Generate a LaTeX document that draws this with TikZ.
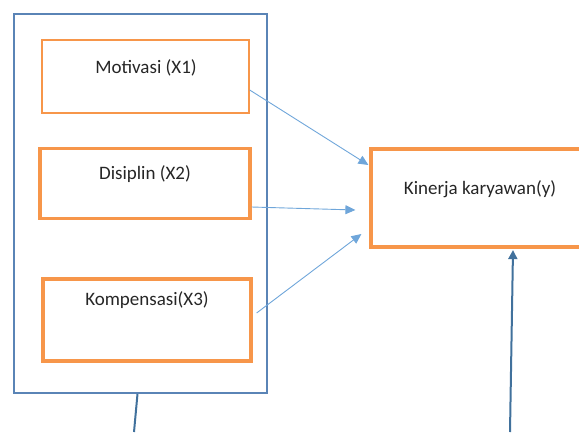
\documentclass[tikz,border=0pt]{standalone}
\usepackage{fontspec}
\setmainfont{Carlito}
\usetikzlibrary{arrows.meta,positioning}
\definecolor{oranye}{HTML}{F7964A}
\definecolor{biru}{HTML}{5A84B6}
\definecolor{birumuda}{HTML}{6FA6DA}
\definecolor{birutua}{HTML}{41719C}
\definecolor{teksabu}{HTML}{262626}
\begin{document}
\begin{tikzpicture}[x=1pt,y=-1pt,
	kotak/.style={draw=oranye,line width=3.2pt,inner sep=0pt},
	teks/.style={text=teksabu,font=\fontsize{19}{23}\selectfont,inner sep=0pt},
	panah/.style={draw=birumuda,line width=0.9pt,-{Triangle[length=10pt,width=9pt]}},
	garis/.style={draw=birutua,line width=2pt}]
	\clip (0,0) rectangle (579,432);
	\node[draw=biru,line width=1.8pt,inner sep=0pt,minimum width=253pt,minimum height=379pt] (luar) at (140.5,203.5) {};
	\node[kotak,line width=1.4pt,minimum width=207pt,minimum height=73pt] (mot) at (145.5,76.5) {};
	\node[kotak,minimum width=210pt,minimum height=70pt] (dis) at (145,183.5) {};
	\node[kotak,minimum width=208pt,minimum height=82pt] (komp) at (147,320) {};
	\node[kotak,minimum width=222pt,minimum height=98pt] (kin) at (482,198) {};
	\node[teks] (motT) at (146,68) {Motivasi (X1)};
	\node[teks] (disT) at (145,174) {Disiplin (X2)};
	\node[teks] (kompT) at (147,300) {Kompensasi(X3)};
	\node[teks] (kinT) at (480,189) {Kinerja karyawan(y)};
	\draw[panah] ([yshift=-13.5pt]mot.east) -- ([xshift=-1pt,yshift=33pt]kin.west);
	\draw[panah] ([yshift=-23.5pt]dis.east) -- ([xshift=-14pt,yshift=-12pt]kin.west);
	\draw[panah] ([xshift=4pt,yshift=7pt]komp.east) -- ([xshift=-8pt,yshift=-36pt]kin.west);
	\coordinate (bawahkiri) at (134,432);
	\coordinate (bawahkanan) at (510,432);
	\draw[garis] ([xshift=-3pt]luar.south) -- (bawahkiri);
	\draw[garis,-{Triangle[length=9pt,width=9pt]}] (bawahkanan) -- ([xshift=31pt,yshift=-1.5pt]kin.south);
\end{tikzpicture}
\end{document}
